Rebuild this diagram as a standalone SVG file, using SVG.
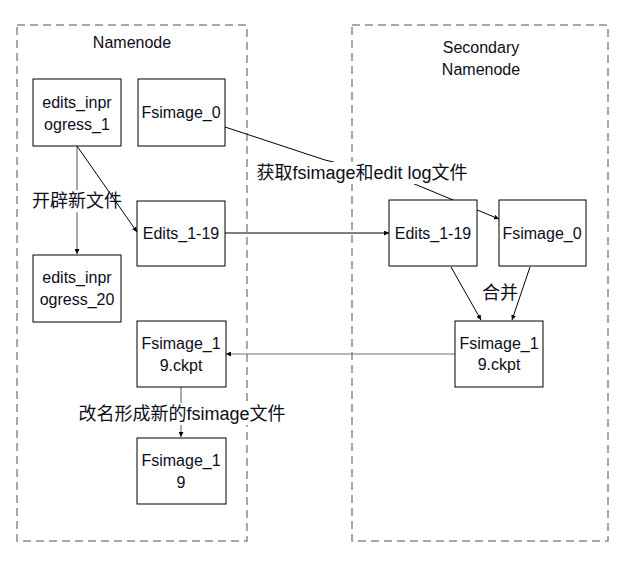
<svg xmlns="http://www.w3.org/2000/svg" width="630" height="563" viewBox="0 0 630 563">
<style>
.cont{fill:none;stroke:#8c8c8c;stroke-width:1.5;stroke-dasharray:8 5}
.box{fill:#fff;stroke:#000;stroke-width:1}
.t{font-family:"Liberation Sans","Noto Sans CJK SC",sans-serif;font-size:16px;fill:#0d0d1a;text-anchor:middle}
.lbl{font-family:"Liberation Sans","Noto Sans CJK SC",sans-serif;font-size:18px;fill:#0d0d1a;text-anchor:middle}
.ln{fill:none;stroke:#000;stroke-width:1}
.lg{fill:none;stroke:#707070;stroke-width:1.2}
</style>
<defs>
<marker id="ah" viewBox="0 0 10 10" refX="10" refY="5" markerWidth="5" markerHeight="5" orient="auto" markerUnits="userSpaceOnUse">
<path d="M0,0 L10,5 L0,10 z" fill="#000"/>
</marker>
</defs>
<rect width="630" height="563" fill="#fff"/>
<g id="namenode-container">
<rect class="cont" x="17" y="25" width="230" height="516"/>
<text class="t" x="132" y="48">Namenode</text>
</g>
<g id="secondary-container">
<rect class="cont" x="352" y="25" width="256" height="516"/>
<text class="t" x="481" y="53">Secondary</text>
<text class="t" x="481" y="75">Namenode</text>
</g>
<g id="connectors">
<line class="lg" x1="77" y1="146" x2="77" y2="254" marker-end="url(#ah)"/>
<line class="ln" x1="77" y1="146" x2="137" y2="232" marker-end="url(#ah)"/>
<path class="ln" d="M225,127 L325,160 L400,178 L499,219" marker-end="url(#ah)"/>
<line class="ln" x1="225" y1="233" x2="389" y2="233" marker-end="url(#ah)"/>
<line class="ln" x1="451" y1="267" x2="481" y2="320" marker-end="url(#ah)"/>
<line class="ln" x1="530" y1="267" x2="512" y2="320" marker-end="url(#ah)"/>
<line class="lg" x1="455" y1="354" x2="226" y2="354" marker-end="url(#ah)"/>
<line class="lg" x1="181" y1="387" x2="181" y2="437" marker-end="url(#ah)"/>
</g>
<g id="label-new-file">
<rect x="30" y="190" width="76" height="22" fill="#fff"/>
<text class="lbl" x="77" y="207">开辟新文件</text>
</g>
<g id="label-fetch">
<rect x="258" y="162" width="210" height="22" fill="#fff"/>
<text class="lbl" x="362" y="179">获取fsimage和edit log文件</text>
</g>
<g id="label-merge">
<text class="lbl" x="500" y="299">合并</text>
</g>
<g id="label-rename">
<rect x="78" y="403" width="208" height="22" fill="#fff"/>
<text class="lbl" x="182" y="420">改名形成新的fsimage文件</text>
</g>
<g id="edits_inprogress_1">
<rect class="box" x="33" y="79" width="88" height="67"/>
<text class="t" x="77" y="108">edits_inpr</text>
<text class="t" x="77" y="130">ogress_1</text>
</g>
<g id="fsimage_0_left">
<rect class="box" x="138" y="79" width="87" height="67"/>
<text class="t" x="181" y="118">Fsimage_0</text>
</g>
<g id="edits_1_19_left">
<rect class="box" x="137" y="201" width="88" height="65"/>
<text class="t" x="181" y="239">Edits_1-19</text>
</g>
<g id="edits_inprogress_20">
<rect class="box" x="33" y="255" width="88" height="67"/>
<text class="t" x="77" y="283">edits_inpr</text>
<text class="t" x="77" y="305">ogress_20</text>
</g>
<g id="fsimage_19_ckpt_left">
<rect class="box" x="137" y="321" width="89" height="66"/>
<text class="t" x="181" y="349">Fsimage_1</text>
<text class="t" x="181" y="371">9.ckpt</text>
</g>
<g id="fsimage_19">
<rect class="box" x="137" y="438" width="89" height="66"/>
<text class="t" x="181" y="466">Fsimage_1</text>
<text class="t" x="181" y="488">9</text>
</g>
<g id="edits_1_19_right">
<rect class="box" x="389" y="200" width="88" height="66"/>
<text class="t" x="433" y="239">Edits_1-19</text>
</g>
<g id="fsimage_0_right">
<rect class="box" x="499" y="200" width="87" height="66"/>
<text class="t" x="542" y="239">Fsimage_0</text>
</g>
<g id="fsimage_19_ckpt_right">
<rect class="box" x="455" y="321" width="88" height="66"/>
<text class="t" x="499" y="349">Fsimage_1</text>
<text class="t" x="499" y="370">9.ckpt</text>
</g>
</svg>
